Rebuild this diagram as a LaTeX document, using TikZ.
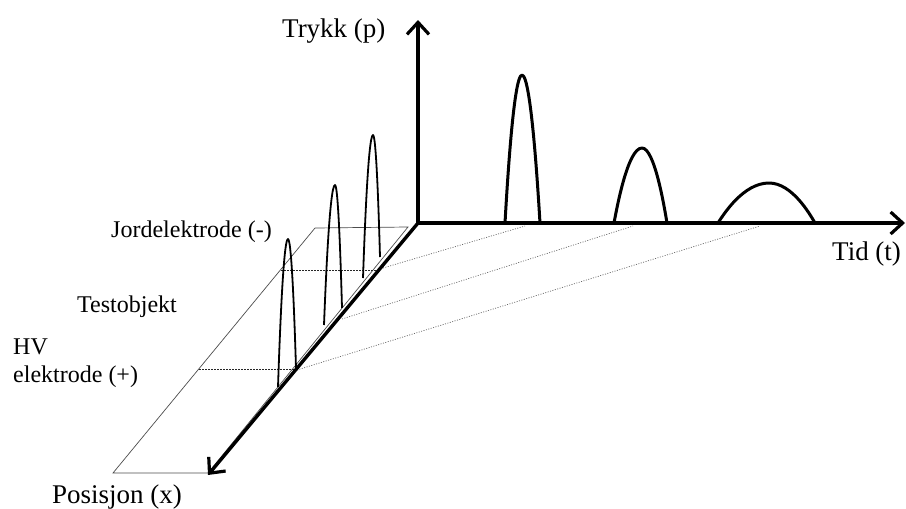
\documentclass[tikz,border=0pt]{standalone}
\usepackage{fontspec}
\setmainfont{Liberation Serif}
\usetikzlibrary{arrows.meta}
\begin{document}
\begin{tikzpicture}[x=1pt,y=-1pt,
  axis/.style={line width=3.4pt,-{Straight Barb[length=12pt,width=22pt,line width=3.2pt]}},
  bigpulse/.style={line width=3pt,line join=round},
  smallpulse/.style={line width=1.8pt,line join=round},
  plane/.style={line width=0.7pt,draw=black!70},
  guide/.style={line width=0.8pt,dash pattern=on 2pt off 1pt,draw=black!85},
  proj/.style={line width=0.7pt,dash pattern=on 1pt off 1.5pt,draw=black!60},
  lbl/.style={inner sep=0pt,anchor=base west,font=\fontsize{24}{28}\selectfont,align=left},
  biglbl/.style={inner sep=0pt,anchor=base west,font=\fontsize{27}{31}\selectfont}]
\useasboundingbox (0,0) rectangle (906,509);
% axes
\coordinate (O) at (418,223);
\coordinate (Ptop) at (418,20);
\coordinate (Tend) at (905,223);
\coordinate (Xend) at (208,475);
% plane
\coordinate (A) at (315,228);
\coordinate (B) at (408,227);
\coordinate (C) at (208,473);
\coordinate (D) at (113,473);
\draw[plane] (A) -- (B) -- (C) -- (D) -- cycle;
% dashed guides
\coordinate (g1a) at (281,270); \coordinate (g1b) at (376,270);
\coordinate (g2a) at (199,369); \coordinate (g2b) at (297,369);
\draw[guide] (g1a) -- (g1b);
\draw[guide] (g2a) -- (g2b);
% projection dotted lines
\coordinate (p1a) at (383,268); \coordinate (p1b) at (525,226);
\coordinate (p2a) at (342,319); \coordinate (p2b) at (633,226);
\coordinate (p3a) at (297,370); \coordinate (p3b) at (760,226);
\draw[proj] (p1a) -- (p1b);
\draw[proj] (p2a) -- (p2b);
\draw[proj] (p3a) -- (p3b);
% small pulses on the plane
\coordinate (s1l) at (278,387); \coordinate (s1t) at (288,239); \coordinate (s1r) at (296,368);
\coordinate (s2l) at (324,325); \coordinate (s2t) at (335,185); \coordinate (s2r) at (342,308);
\coordinate (s3l) at (363,278); \coordinate (s3t) at (373,135); \coordinate (s3r) at (380,257);
\draw[smallpulse] (s1l) parabola bend (s1t) (s1r);
\draw[smallpulse] (s2l) parabola bend (s2t) (s2r);
\draw[smallpulse] (s3l) parabola bend (s3t) (s3r);
% big pulses on time axis
\coordinate (b1l) at (505,223); \coordinate (b1t) at (522,75); \coordinate (b1r) at (540,223);
\coordinate (b2l) at (614,223); \coordinate (b2t) at (642,148); \coordinate (b2r) at (667,223);
\coordinate (b3l) at (718,223); \coordinate (b3t) at (769,183); \coordinate (b3r) at (815,223);
\draw[bigpulse] (b1l) parabola bend (b1t) (b1r);
\draw[bigpulse] (b2l) parabola bend (b2t) (b2r);
\draw[bigpulse] (b3l) parabola bend (b3t) (b3r);
% axes drawn on top
\draw[axis] (O) -- (Ptop);
\draw[axis] (O) -- (Tend);
\draw[axis] (O) -- (Xend);
% labels
\node[biglbl] (ylab) at (282,37) {Trykk (p)};
\node[biglbl] (tlab) at (832,260) {Tid (t)};
\node[biglbl] (xlab) at (52,503) {Posisjon (x)};
\node[lbl] (jord) at (111,237) {Jordelektrode (-)};
\node[lbl] (test) at (77,312) {Testobjekt};
\node[lbl] (hv) at (13,382) {HV\\elektrode (+)};
\end{tikzpicture}
\end{document}
